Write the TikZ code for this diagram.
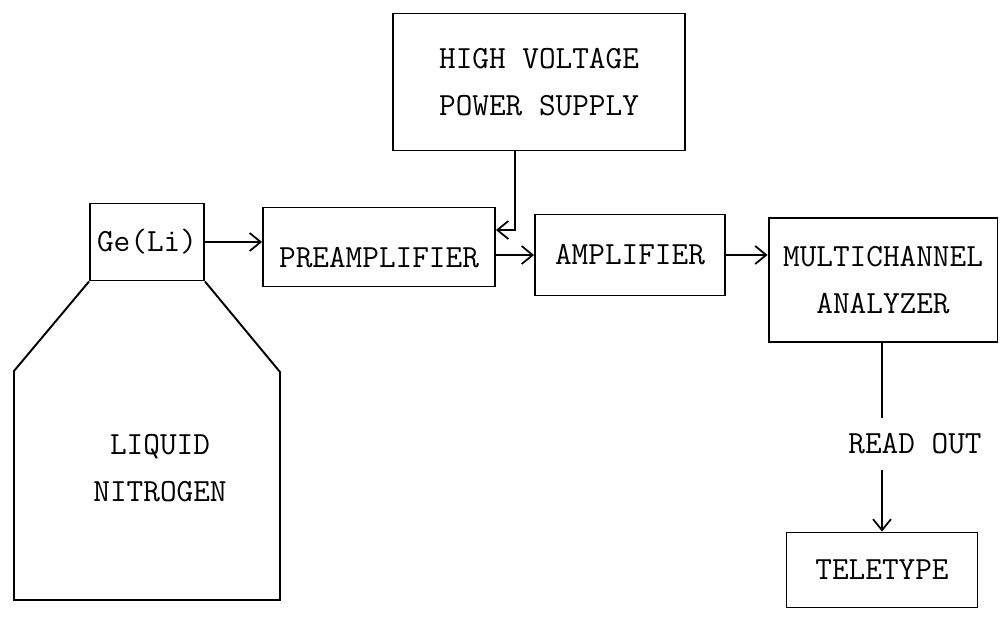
\documentclass[tikz,border=0pt]{standalone}
\usetikzlibrary{arrows.meta,positioning,calc}

\begin{document}
\begin{tikzpicture}[>={Straight Barb[length=2.2mm,width=3.6mm]},x=0.02cm,y=-0.02cm,font=\ttfamily\fontsize{18.4}{27}\selectfont,box/.style={draw,line width=1.1pt,align=center,inner sep=2pt}]
\useasboundingbox (0,0) rectangle (1003,616);
\node[box,minimum width=5.84cm,minimum height=2.74cm] (hv) at (539,82) {HIGH VOLTAGE\\POWER SUPPLY};
\node[box,minimum width=2.28cm,minimum height=1.54cm] (ge) at (147,242) {Ge(Li)};
\node[box,minimum width=4.64cm,minimum height=1.58cm,text height=0.84cm] (pre) at (379,247) {PREAMPLIFIER};
\node[box,minimum width=3.8cm,minimum height=1.62cm] (amp) at (630,255) {AMPLIFIER};
\node[box,minimum width=4.58cm,minimum height=2.48cm] (mca) at (883,280) {MULTICHANNEL\\ANALYZER};
\node[box,minimum width=3.82cm,minimum height=1.5cm] (tele) at (882,570) {TELETYPE};
\node[minimum height=1.04cm,inner sep=0pt] (ro) at (915,444) {READ OUT};
% dewar
\draw[line width=1.1pt] (ge.south west) -- (14,371) -- (14,600) -- (280,600) -- (280,372) -- (ge.south east);
\node[align=center] (ln) at (160,468) {LIQUID\\NITROGEN};
% connections
\coordinate (hvin) at (515,230);
\draw[->,line width=1pt] (hv.south -| hvin) -- (hvin) -- (hvin -| pre.east);
\draw[->,line width=1pt] (ge.east) -- (ge.east -| pre.west);
\draw[->,line width=1pt] (amp.west -| pre.east) -- (amp.west);
\draw[->,line width=1pt] (amp.east) -- (amp.east -| mca.west);
\draw[line width=1pt] (tele.north |- mca.south) -- (tele.north |- ro.north);
\draw[->,line width=1pt] (tele.north |- ro.south) -- (tele.north);
\end{tikzpicture}
\end{document}
